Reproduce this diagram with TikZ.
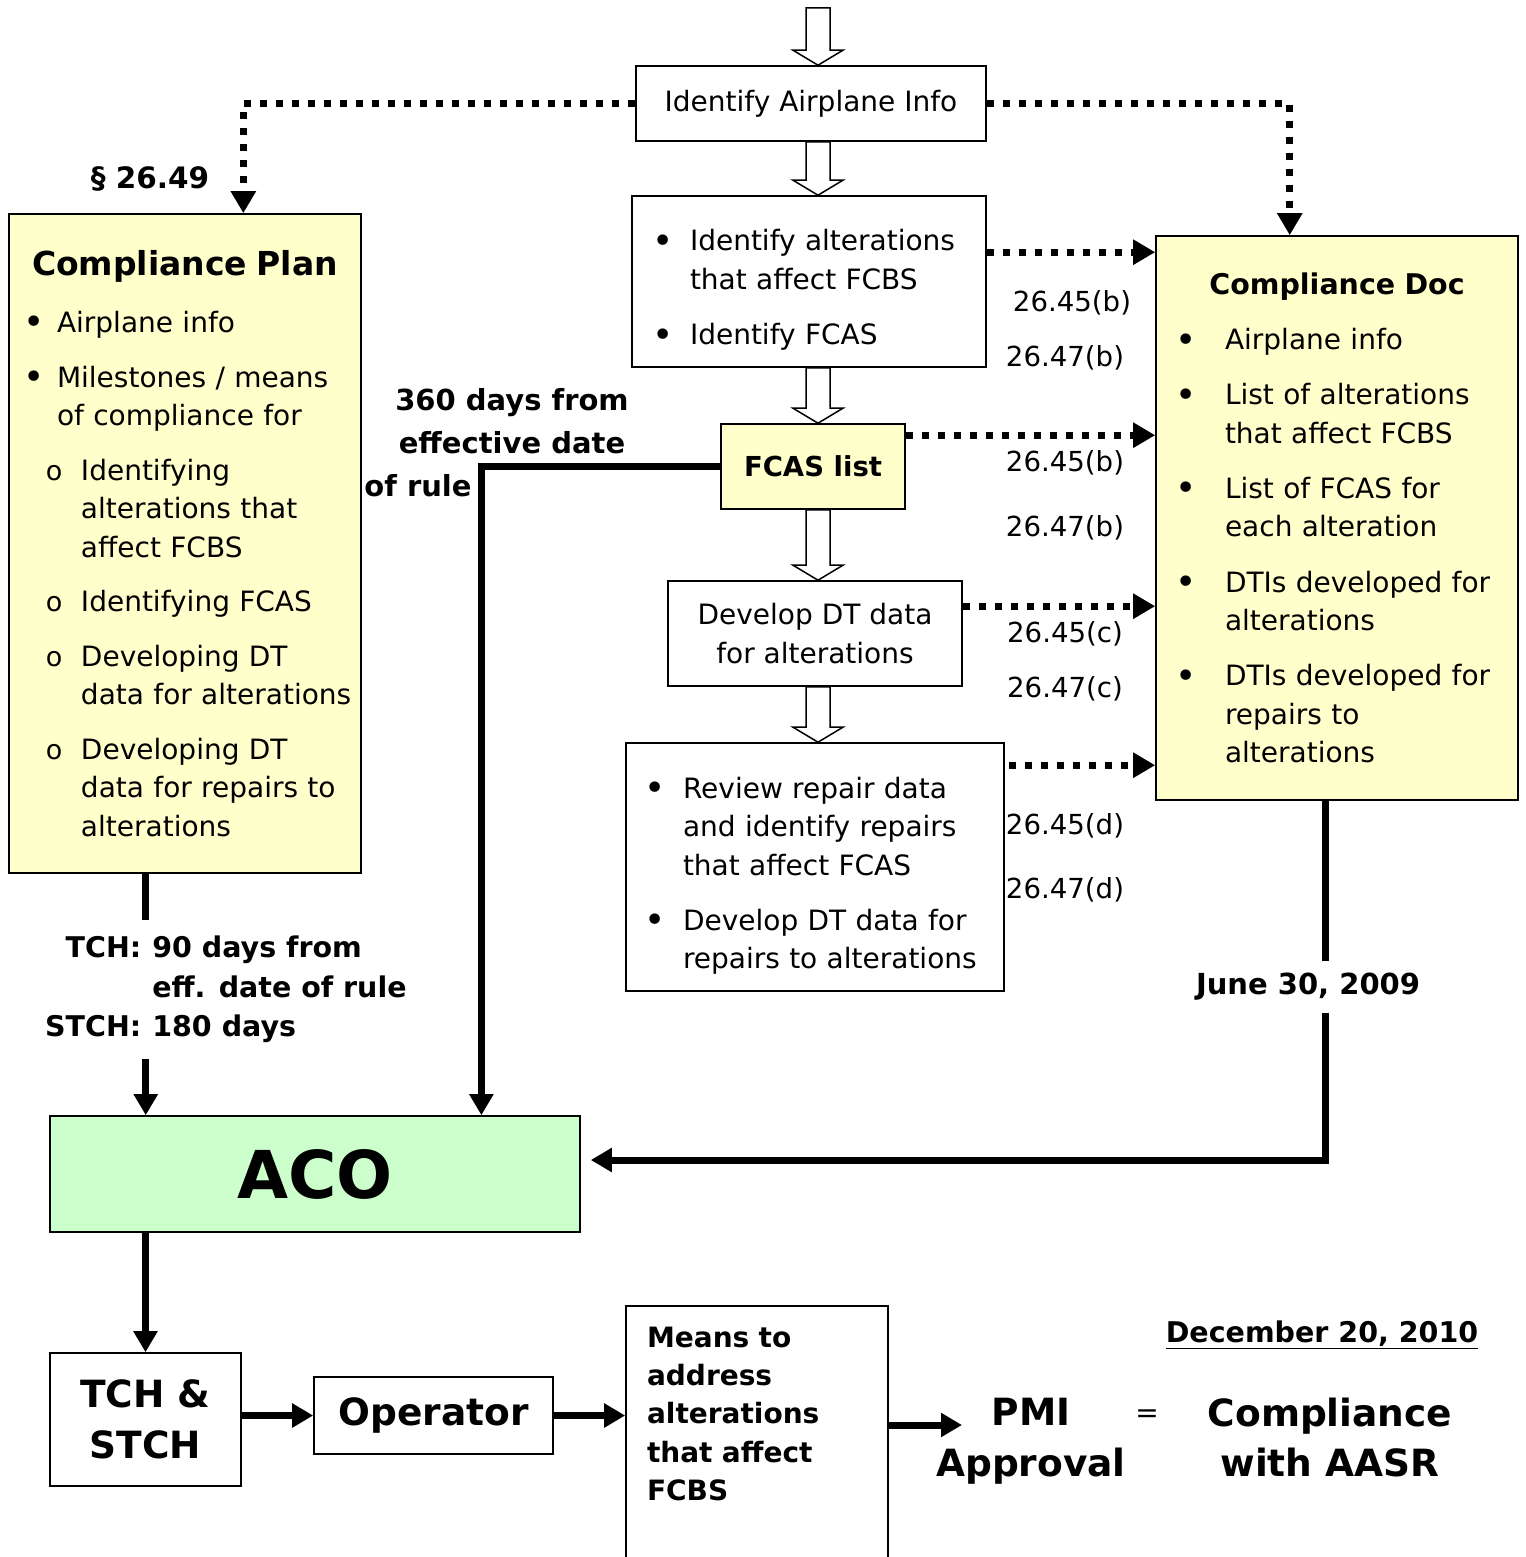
\documentclass[tikz,border=0pt]{standalone}
\usepackage{fontspec}
\setmainfont{DejaVu Sans}
\usetikzlibrary{arrows.meta,calc}

\definecolor{noteyellow}{HTML}{FFFFCC}
\definecolor{acogreen}{HTML}{CCFFCC}

% list items with a hanging indent: [gap]{bullet indent}{text indent}{text}
\newcommand{\bitem}[4][17pt]{\par\vspace{#1}\hangindent=#3\hangafter=1\noindent
  \hspace*{#2}\makebox[\dimexpr#3-#2\relax][l]{\raisebox{-2.5pt}{\fontsize{36}{36}\selectfont\textbullet}}#4}
\newcommand{\sitem}[4][17pt]{\par\vspace{#1}\hangindent=#3\hangafter=1\noindent
  \hspace*{#2}\makebox[\dimexpr#3-#2\relax][l]{\fontsize{27}{27}\selectfont o}#4}
% open block arrow from #1 down to the tip #2
\newcommand{\hollowarrow}[2]{%
  \draw [hollow] let \p1=(#1), \p2=(#2) in
    (\x1-12pt,\y1) -- (\x1-12pt,\y2+15pt) -- (\x1-25pt,\y2+15pt) -- (\x2,\y2)
    -- (\x1+25pt,\y2+15pt) -- (\x1+12pt,\y2+15pt) -- (\x1+12pt,\y1) -- cycle;}

\begin{document}
\begin{tikzpicture}[x=1pt,y=-1pt,
    plainbox/.style={draw,line width=1.6pt,inner sep=0pt},
    notebox/.style={plainbox,fill=noteyellow},
    body/.style={font=\fontsize{28}{38.5}\selectfont},
    boldbody/.style={font=\fontsize{29}{43}\selectfont\bfseries},
    bigbold/.style={font=\fontsize{37.5}{51}\selectfont\bfseries},
    reflabel/.style={font=\fontsize{27.6}{30}\selectfont},
    dotarrow/.style={line width=7pt,dash pattern=on 7pt off 9pt,-{Triangle[length=22pt,width=24pt]}},
    thickline/.style={line width=7pt},
    thickarrow/.style={thickline,-{Triangle[length=21pt,width=23pt]}},
    hollow/.style={line width=1.5pt,fill=white}]
  \useasboundingbox (0,0) rectangle (1525,1557);

  % Middle column
  \node [plainbox,body,minimum width=350pt,minimum height=75pt] at (811, 103.5) (info) {Identify Airplane Info};
  \node [plainbox,body,minimum width=354pt,minimum height=171pt,text width=318pt,align=left] at (809, 281.5) (alter)
    {\bitem[0pt]{2pt}{40pt}{Identify alterations\newline that affect FCBS}
     \bitem[17pt]{2pt}{40pt}{Identify FCAS}\par\vspace{5pt}};
  \node [notebox,font=\fontsize{27.5}{33}\selectfont\bfseries,minimum width=184pt,minimum height=85pt] at (813, 466.5) (fcas) {FCAS list};
  \node [plainbox,body,align=center,minimum width=294pt,minimum height=105pt] at (815, 633.5) (develop) {Develop DT data\\for alterations};
  \node [plainbox,body,minimum width=378pt,minimum height=248pt,text width=350pt,align=left] at (815, 867) (review)
    {\bitem[0pt]{4pt}{43pt}{Review repair data\newline and identify repairs\newline that affect FCAS}
     \bitem[16.5pt]{4pt}{43pt}{Develop DT data for\newline repairs to alterations}\par\vspace{4pt}};

  % Compliance plan and compliance doc
  \node [notebox,body,minimum width=352pt,minimum height=659pt,text width=340pt,align=left] at (185, 543.5) (cplan)
    {{\centering\fontsize{33}{38.5}\selectfont\bfseries Compliance Plan\par}
     \bitem[18pt]{9pt}{42pt}{Airplane info}
     \bitem[16.5pt]{9pt}{42pt}{Milestones / means\newline of compliance for}
     \sitem[16pt]{31pt}{66pt}{Identifying\newline alterations that\newline affect FCBS}
     \sitem[16pt]{31pt}{66pt}{Identifying FCAS}
     \sitem[16pt]{31pt}{66pt}{Developing DT\newline data for alterations}
     \sitem[16pt]{31pt}{66pt}{Developing DT\newline data for repairs to\newline alterations}\par};
  \node [notebox,body,minimum width=362pt,minimum height=564pt,text width=334pt,align=left] at (1337, 518) (cdoc)
    {{\centering\fontsize{28.5}{38.5}\selectfont\bfseries Compliance Doc\par}
     \bitem[16.5pt]{5pt}{55pt}{Airplane info}
     \bitem[16.5pt]{5pt}{55pt}{List of alterations\newline that affect FCBS}
     \bitem[16.5pt]{5pt}{55pt}{List of FCAS for\newline each alteration}
     \bitem[17pt]{5pt}{55pt}{DTIs developed for\newline alterations}
     \bitem[16.5pt]{5pt}{55pt}{DTIs developed for\newline repairs to\newline alterations}\par};

  % Bottom row
  \node [plainbox,fill=acogreen,font=\fontsize{66}{66}\selectfont\bfseries,minimum width=530pt,minimum height=116pt] at (315, 1174) (aco) {ACO};
  \node [plainbox,bigbold,align=center,minimum width=191pt,minimum height=133pt] at (145.5, 1419.5) (tch) {TCH \&\\STCH};
  \node [plainbox,bigbold,minimum width=239pt,minimum height=77pt] at (433.5, 1415.5) (oper) {Operator};
  \node [plainbox,font=\fontsize{28}{38.3}\selectfont\bfseries,anchor=north,minimum width=262pt,text width=220pt,align=left,inner ysep=21pt] at (757, 1305) (means)
    {Means to\\address\\alterations\\that affect\\FCBS\par\rule{0pt}{160pt}\par};
  \node [bigbold,align=center] at (1031, 1441.5) (pmi) {PMI\\Approval};
  \node [body] at (1147, 1416) (eq) {=};
  \node [bigbold,align=center,font=\fontsize{37.5}{50}\selectfont\bfseries] at (1330, 1438) (aasr) {Compliance\\with AASR};
  \node [font=\fontsize{28.5}{30}\selectfont\bfseries] at (1322, 1335) (dec) {\underline{December 20, 2010}};

  % Labels
  \node [font=\fontsize{29.5}{35}\selectfont\bfseries] at (150, 179) (sec) {\S\ 26.49};
  \node [reflabel] at (1072, 303) (r45b) {26.45(b)};
  \node [reflabel] at (1065, 358) (r47b) {26.47(b)};
  \node [reflabel] at (1065, 463) (r45bb) {26.45(b)};
  \node [reflabel] at (1065, 528) (r47bb) {26.47(b)};
  \node [reflabel] at (1065, 634) (r45c) {26.45(c)};
  \node [reflabel] at (1065, 689) (r47c) {26.47(c)};
  \node [reflabel] at (1065, 826) (r45d) {26.45(d)};
  \node [reflabel] at (1065, 890) (r47d) {26.47(d)};
  \node [boldbody,align=center] at (512, 421.5) (days) {360 days from\\effective date};
  \node [boldbody] at (418, 486) (ofrule) {of rule};
  \node [font=\fontsize{28.5}{39.5}\selectfont\bfseries,anchor=west,inner xsep=0pt,inner ysep=10pt] at (45, 989.5) (tchlbl)
    {\begin{tabular}{@{}r@{\hspace{11pt}}l@{}}TCH: & 90 days from\\ & eff. date of rule\\STCH: & 180 days\end{tabular}};
  \node [boldbody,inner ysep=12pt] at (1308, 987) (june) {June 30, 2009};

  % Block arrows down the middle
  \coordinate (spine) at (818, 0);
  \coordinate (entry) at (818, 8);
  \hollowarrow{entry}{info.north -| spine}
  \hollowarrow{info.south -| spine}{alter.north -| spine}
  \hollowarrow{alter.south -| spine}{fcas.north -| spine}
  \hollowarrow{fcas.south -| spine}{develop.north -| spine}
  \hollowarrow{develop.south -| spine}{review.north -| spine}

  % Dotted arrows
  \draw [dotarrow] (info.west) -| ($(cplan.north west)!0.665!(cplan.north east)$);
  \draw [dotarrow] (info.east) -| ($(cdoc.north west)!0.37!(cdoc.north east)$);
  \draw [dotarrow] ([yshift=-57pt]alter.north east) coordinate (d1) -- (d1 -| cdoc.west);
  \draw [dotarrow] ([yshift=-12pt]fcas.north east) coordinate (d2) -- (d2 -| cdoc.west);
  \draw [dotarrow] ([yshift=-26pt]develop.north east) coordinate (d3) -- (d3 -| cdoc.west);
  \draw [dotarrow] ([xshift=4pt,yshift=-23pt]review.north east) coordinate (d4) -- (d4 -| cdoc.west);

  % Deadlines to the ACO
  \draw [thickarrow] (fcas.west) -| ($(aco.north west)!0.813!(aco.north east)$);
  \coordinate (plandrop) at ($(cplan.south west)!0.389!(cplan.south east)$);
  \draw [thickline] (plandrop) -- (plandrop |- tchlbl.north);
  \draw [thickarrow] (plandrop |- tchlbl.south) -- (plandrop |- aco.north);
  \coordinate (docdrop) at ($(cdoc.south west)!0.467!(cdoc.south east)$);
  \draw [thickline] (docdrop) -- (docdrop |- june.north);
  \draw [thickarrow] (docdrop |- june.south) |- ([xshift=10pt,yshift=14pt]aco.east);

  % Bottom chain
  \draw [thickarrow] (tch.north |- aco.south) -- (tch.north);
  \draw [thickarrow] (oper.west -| tch.east) -- (oper.west);
  \draw [thickarrow] (oper.east) -- (oper.east -| means.west);
  \coordinate (pmiin) at (962, 1425);
  \draw [thickarrow] (pmiin -| means.east) -- (pmiin);
\end{tikzpicture}
\end{document}
